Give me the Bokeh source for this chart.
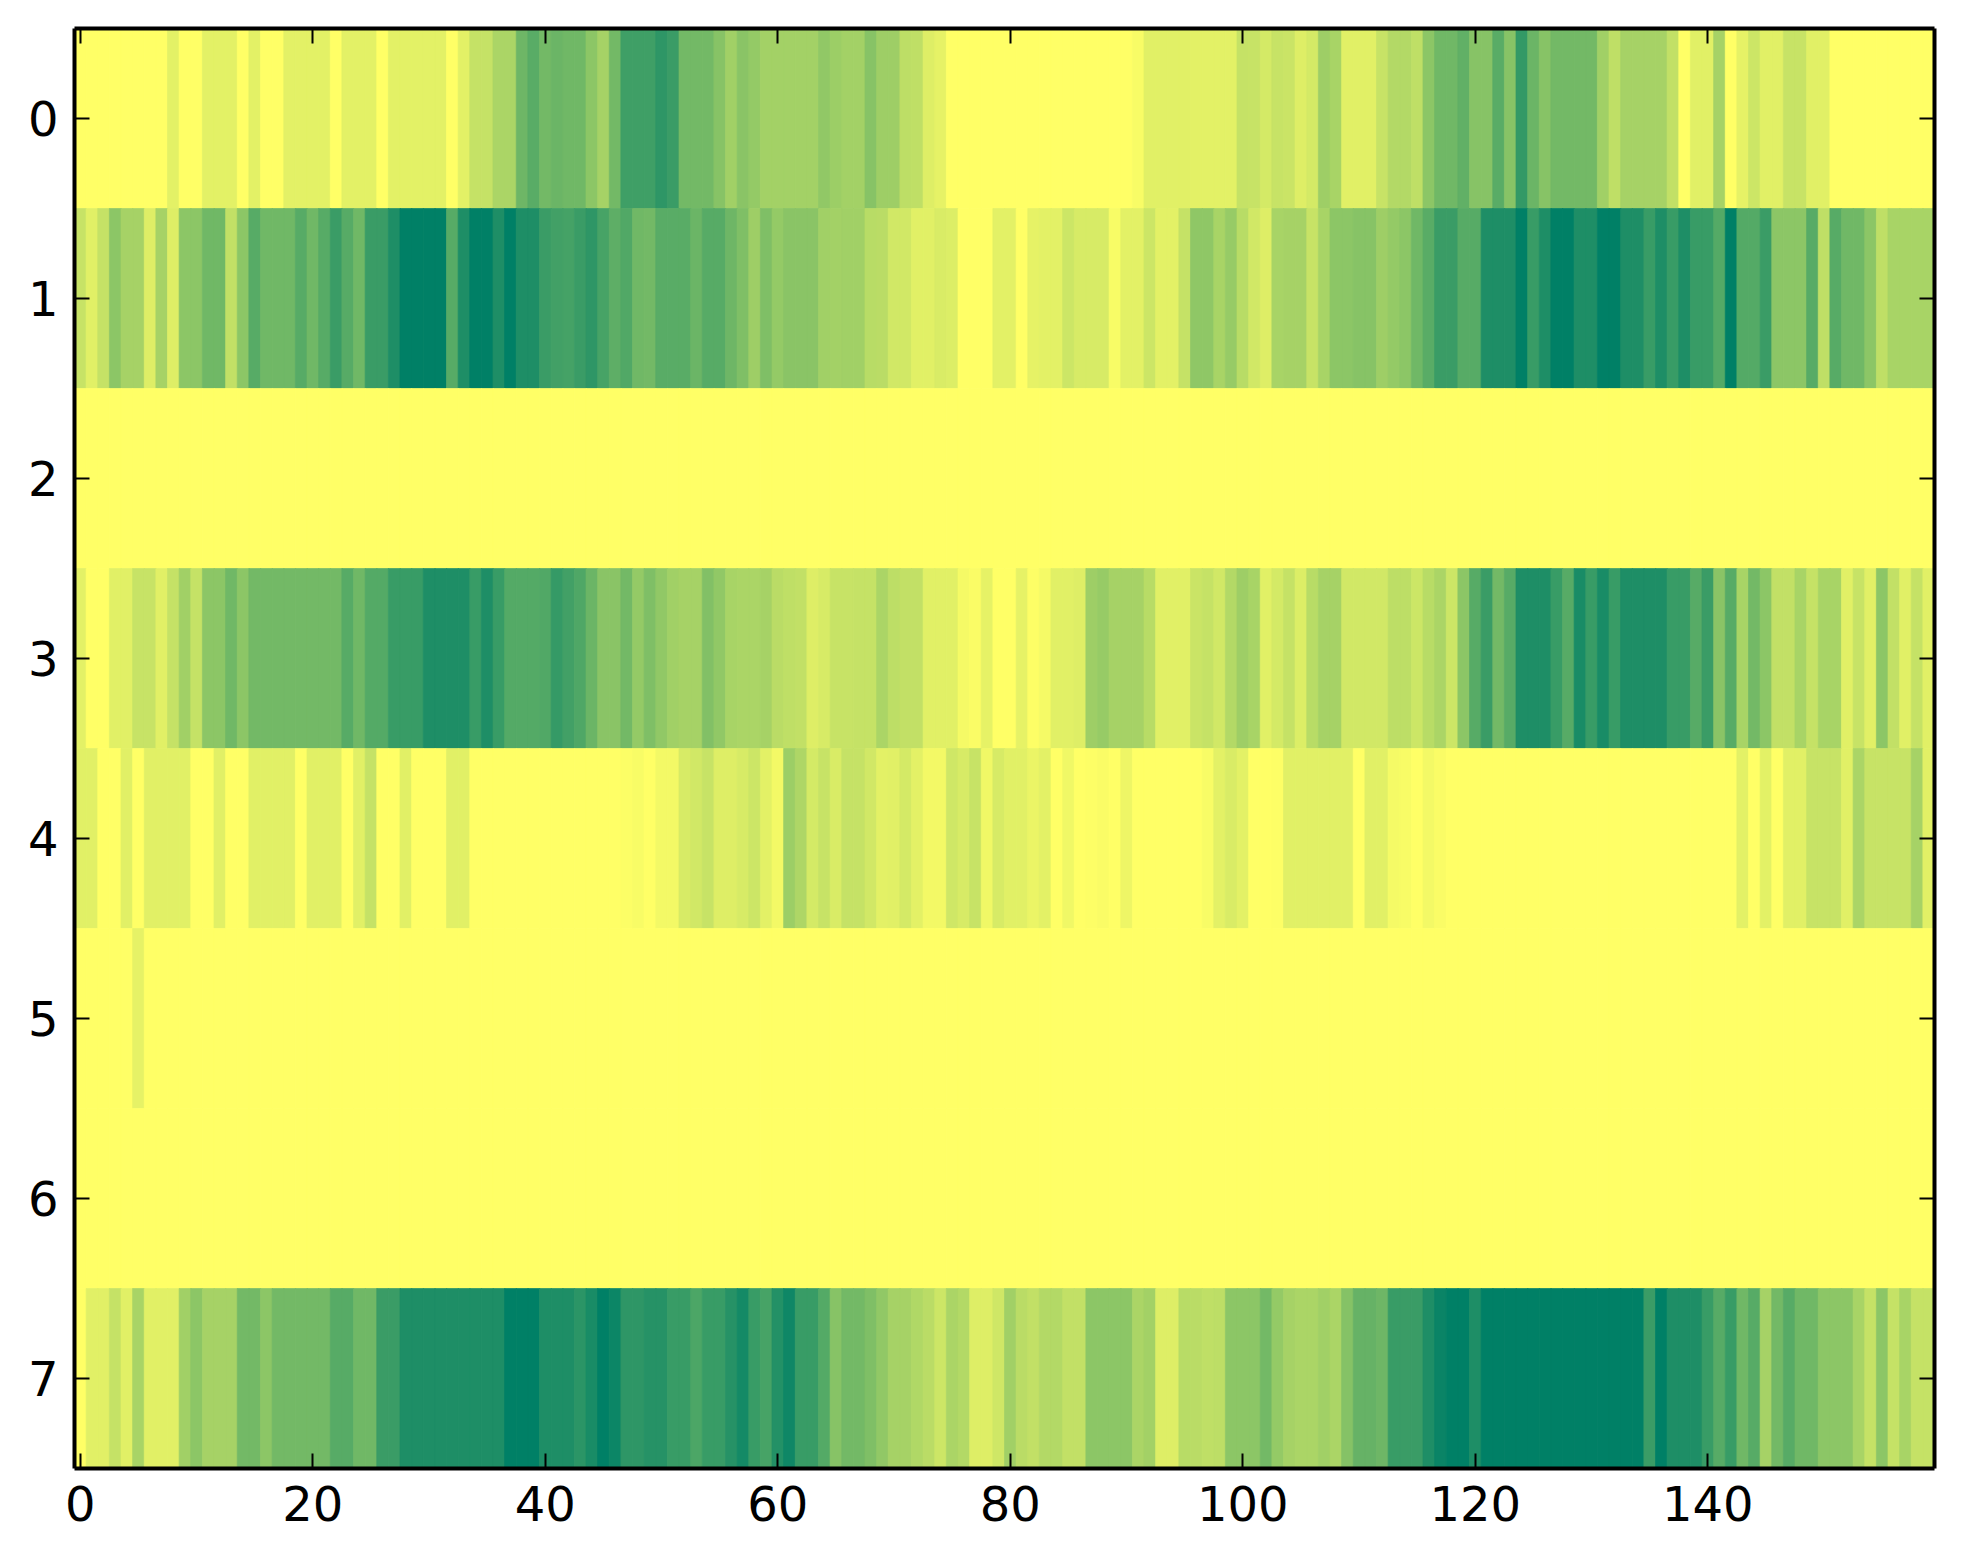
from bokeh.plotting import figure
from bokeh.models import ColumnDataSource, LinearColorMapper, Range1d, FixedTicker, LinearAxis
from bokeh.transform import transform
from bokeh.embed import file_html
from bokeh.resources import INLINE

Z = [0.0] * 10

row_0 = (Z[:8] + [.11, 0]
    + [0, .11, .11, .11, 0, .11, 0, 0, .11, .11]
    + [.11, .11, 0, .11, .11, .11, 0, .11, .11, .11]
    + [.11, .11, 0, .11, .23, .23, .33, .33, .57, .65]
    + [.55, .58, .56, .56, .45, .35, .55, .75, .75, .75]
    + [.82, .77, .55, .55, .55, .47, .37, .46, .42, .36]
    + [.36, .36, .36, .36, .43, .39, .36, .36, .47, .38]
    + [.38, .26, .25, .13, .1, 0, 0, 0, 0, 0]
    + Z
    + [0, .03, .12, .12, .12, .12, .11, .11, .11, .11]
    + [.23, .22, .17, .22, .21, .13, .17, .38, .34, .12]
    + [.12, .12, .22, .3, .3, .25, .45, .56, .56, .62]
    + [.47, .47, .65, .47, .8, .58, .47, .55, .55, .55]
    + [.55, .37, .25, .35, .35, .35, .35, .24, 0, .12]
    + [.12, .35, 0, .1, .2, .12, .12, .22, .22, .12]
    + [.12, 0, 0, 0, 0, 0, 0, 0, 0, 0])

row_1 = ([.22, .12, .23, .45, .35, .35, .13, .35, .13, .45]
    + [.45, .56, .56, .24, .45, .66, .56, .56, .56, .66]
    + [.56, .66, .77, .66, .56, .77, .77, .88, 1, 1]
    + [1, 1, .66, .88, 1, 1, .88, 1, .88, .88]
    + [.77, .74, .73, .77, .82, .72, .63, .68, .56, .55]
    + [.65, .65, .65, .58, .66, .66, .57, .5, .38, .5]
    + [.42, .46, .46, .46, .37, .36, .37, .37, .28, .27]
    + [.18, .18, .12, .12, .15, .14, 0, 0, 0, .11]
    + [.11, 0, .1, .11, .11, .2, .16, .16, .16, .03]
    + [.11, .11, .2, .11, .11, .23, .44, .44, .34, .41]
    + [.28, .18, .13, .34, .35, .35, .22, .34, .45, .45]
    + [.47, .47, .38, .42, .45, .56, .65, .77, .77, .66]
    + [.66, .88, .88, .88, 1, .78, .88, 1, 1, .88]
    + [.88, 1, 1, .88, .88, .78, .88, .78, .88, .78]
    + [.78, .67, 1, .67, .67, .77, .45, .45, .45, .66]
    + [.25, .66, .56, .56, .45, .25, .34, .34, .34, .34])

row_2 = [0.0] * 160

row_3 = ([.11, 0, 0, .12, .12, .22, .22, .12, .23, .37]
    + [.23, .45, .45, .56, .45, .55, .55, .55, .55, .55]
    + [.55, .55, .55, .66, .56, .67, .67, .78, .78, .78]
    + [.88, .88, .88, .88, .78, .88, .78, .67, .67, .67]
    + [.68, .79, .74, .69, .58, .46, .46, .55, .42, .5]
    + [.43, .37, .35, .35, .49, .43, .34, .33, .33, .35]
    + [.27, .25, .24, .13, .16, .22, .22, .23, .23, .33]
    + [.26, .24, .24, .12, .12, .12, .04, .02, .1, 0]
    + [0, .1, .01, .04, .12, .12, .13, .38, .41, .35]
    + [.35, .35, .28, .12, .12, .12, .21, .23, .18, .3]
    + [.38, .34, .12, .17, .23, .14, .28, .35, .35, .18]
    + [.18, .18, .18, .26, .26, .2, .28, .33, .2, .45]
    + [.66, .77, .55, .66, .88, .88, .88, .78, .66, .9]
    + [.78, .9, .78, .88, .88, .88, .88, .78, .78, .66]
    + [.77, .46, .66, .34, .55, .45, .24, .24, .34, .23]
    + [.34, .34, .12, .22, .12, .45, .24, .12, .23, .12])

row_4 = ([.12, .12, 0, 0, .12, 0, .12, .12, .12, .12]
    + [0, 0, .12, 0, 0, .12, .12, .12, .12, 0]
    + [.12, .12, .12, 0, .12, .23, 0, 0, .12, 0]
    + [0, 0, .12, .12, 0, 0, 0, 0, 0, 0]
    + [0, 0, 0, 0, 0, 0, 0, .015, .03, 0]
    + [.05, .05, .16, .18, .22, .13, .13, .16, .2, .11]
    + [.05, .39, .32, .17, .22, .15, .23, .23, .18, .11]
    + [.12, .17, .11, .05, .05, .19, .16, .22, .06, .16]
    + [.12, .12, .08, .11, 0, .06, 0, .01, .02, 0]
    + [.07, 0, 0, 0, 0, 0, 0, .03, .11, .15]
    + [.11, 0, 0, .01, .12, .12, .12, .12, .12, .12]
    + [0, .12, .12, .04, .03, 0, .05, .02, 0, 0]
    + Z + Z
    + [0, 0, 0, .11, 0, .11, 0, .12, .12, .22]
    + [.22, .22, .12, .33, .22, .22, .22, .22, .35, .12])

row_5 = [0.0] * 160
row_5[5] = .1

row_6 = [0.0] * 160

row_7 = ([0, .12, .12, .23, .12, .34, .12, .12, .12, .37]
    + [.45, .35, .35, .35, .55, .55, .45, .55, .55, .55]
    + [.55, .55, .66, .66, .56, .56, .77, .77, .88, .88]
    + [.88, .88, .88, .88, .88, .88, .88, 1, 1, 1]
    + [.88, .88, .88, .83, .9, 1, .95, .82, .82, .85]
    + [.85, .78, .78, .7, .78, .78, .85, .92, .78, .72]
    + [.86, .94, .78, .78, .67, .47, .55, .55, .5, .43]
    + [.35, .35, .31, .27, .2, .33, .3, .13, .13, .19]
    + [.37, .27, .24, .3, .3, .24, .24, .45, .45, .45]
    + [.45, .33, .36, .13, .13, .28, .27, .25, .26, .45]
    + [.45, .45, .55, .42, .35, .33, .33, .37, .33, .48]
    + [.6, .6, .57, .78, .77, .77, .88, .96, 1, 1]
    + [.88, 1, 1, 1, 1, 1, 1, 1, 1, 1]
    + [1, 1, 1, 1, 1, .77, 1, .88, .88, .88]
    + [.78, .66, .78, .56, .66, .35, .55, .66, .56, .56]
    + [.45, .45, .45, .34, .23, .45, .23, .34, .23, .23])

rows = [row_0, row_1, row_2, row_3, row_4, row_5, row_6, row_7]
x_ticks = [0, 20, 40, 60, 80, 100, 120, 140]
y_ticks = [0, 1, 2, 3, 4, 5, 6, 7]

# matplotlib "summer_r": low = yellow, high = green
palette = ["#%02x%02x66" % (255 - i, round(255 - i / 2)) for i in range(256)]
mapper = LinearColorMapper(palette=palette, low=0, high=1)

xs, ys, vs = [], [], []
for r, row in enumerate(rows):
    assert len(row) == 160, (r, len(row))
    for c, val in enumerate(row):
        xs.append(c); ys.append(r); vs.append(val)
source = ColumnDataSource(dict(x=xs, y=ys, v=vs))

p = figure(width=1947, height=1548, output_backend="svg", toolbar_location=None,
           x_range=Range1d(-0.5, 159.5), y_range=Range1d(7.5, -0.5),
           min_border_left=74, min_border_right=13, min_border_top=28, min_border_bottom=80,
           frame_width=1860, frame_height=1440)
p.rect("x", "y", width=1, height=1, dilate=True, source=source,
       fill_color=transform("v", mapper), line_color=transform("v", mapper), line_width=0.7)

p.grid.visible = False
p.outline_line_color = None


def style(ax, ticks):
    ax.ticker = FixedTicker(ticks=ticks)
    ax.axis_line_color = "black"
    ax.axis_line_width = 4
    ax.major_tick_in = 15
    ax.major_tick_out = 0
    ax.major_tick_line_width = 2
    ax.major_tick_line_color = "black"
    ax.minor_tick_line_color = None
    ax.major_label_text_font = "DejaVu Sans"
    ax.major_label_text_font_size = "48px"
    ax.major_label_text_color = "black"


style(p.xaxis[0], x_ticks)
style(p.yaxis[0], y_ticks)
p.xaxis[0].major_label_standoff = 17
p.yaxis[0].major_label_standoff = 16
top = LinearAxis(); style(top, x_ticks)
right = LinearAxis(); style(right, y_ticks)
for ax, ticks in ((top, x_ticks), (right, y_ticks)):
    ax.major_label_overrides = {t: "" for t in ticks}
    ax.major_label_standoff = 0
p.add_layout(top, "above")
p.add_layout(right, "right")

open("out.html", "w").write(file_html(p, INLINE))
